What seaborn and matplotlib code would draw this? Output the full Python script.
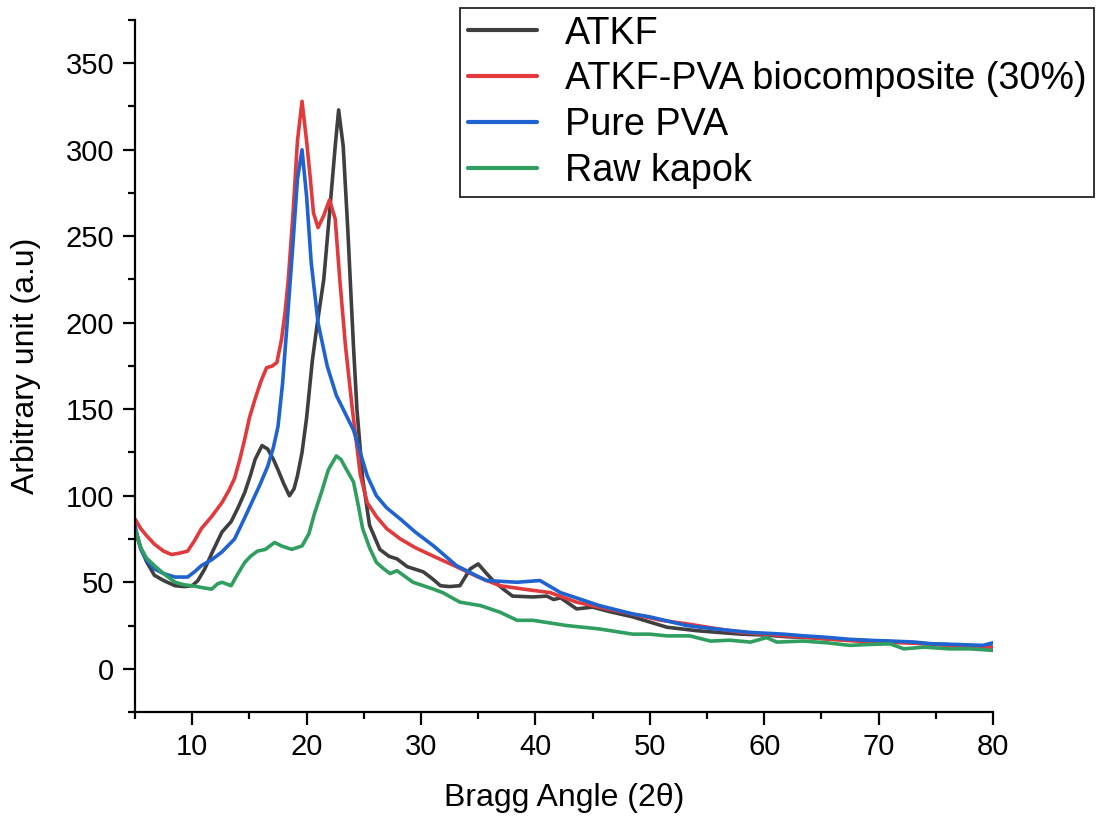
import numpy as np
import pandas as pd
import matplotlib
matplotlib.use("Agg")
import matplotlib.pyplot as plt
import seaborn as sns
from matplotlib.ticker import MultipleLocator
from matplotlib.lines import Line2D

# ---------------- data ----------------
series_names = ["ATKF", "ATKF-PVA biocomposite (30%)", "Pure PVA", "Raw kapok"]
series_colors = ["#3f3f3f", "#e23a3c", "#1f63d0", "#2f9e5f"]

atkf_x = [5, 5.5, 6, 6.7, 7.5, 8.5, 9.3, 10, 10.5, 11.1,
          11.8, 12.6, 13.4, 14.0, 14.6, 15.1, 15.5, 16.1, 16.6, 17.1,
          17.5, 18.0, 18.5, 18.9, 19.2, 19.6, 20.0, 20.5, 20.9, 21.5,
          22.0, 22.5, 22.8, 23.2, 23.6, 24.1, 24.4, 24.9, 25.5, 26.4,
          27.2, 27.9, 28.8, 30.2, 31.0, 31.7, 32.5, 33.4, 34.3, 35.0,
          35.6, 36.3, 37.2, 38.0, 39.8, 41.0, 41.6, 42.2, 43.6, 45.0,
          46.5, 48.5, 50, 51.5, 54.1, 56, 58, 60, 62, 64,
          66, 68, 70, 72, 74, 76, 78, 80]
atkf_y = [80, 70, 62, 54, 51, 48, 47.5, 48, 51, 57.7,
          68, 79, 85, 93, 102, 112, 121, 129, 127, 121,
          115, 107, 100, 104, 111.5, 125, 145, 178, 198, 225,
          263, 302, 323, 302, 254, 186, 150, 110, 83, 69,
          65, 63.5, 59, 56, 52, 48, 47.5, 48, 57.7, 60.6,
          56, 51, 46, 42, 41.5, 42, 40, 41, 34.6, 35.6,
          33, 30, 27, 24, 22, 21, 20, 19.5, 18.5, 18,
          17, 16.5, 16, 15.5, 14.5, 14, 13, 12.5]

comp_x = [5, 5.5, 6, 6.7, 7.5, 8.2, 9.0, 9.6, 10.2, 10.8,
          11.7, 12.6, 13.2, 13.7, 14.2, 14.6, 15.0, 15.5, 16.0, 16.5,
          17.0, 17.4, 17.8, 18.1, 18.4, 18.8, 19.2, 19.6, 20.0, 20.3,
          20.6, 21.0, 21.5, 22.0, 22.5, 22.9, 23.4, 24.0, 24.7, 25.3,
          26.1, 27.0, 28.2, 29.5, 31.1, 33.1, 35.0, 36.9, 39, 41.3,
          43.6, 46, 48.5, 51, 53.2, 56, 58, 60, 62, 64,
          66, 68, 70, 72, 74, 76, 78, 80]
comp_y = [86.6, 81, 77, 72, 68, 66, 67, 68, 74, 81,
          88, 96, 103, 110, 122, 133, 145, 156, 166, 174,
          175, 177, 190, 205, 225, 262, 305, 328, 305, 285,
          263.5, 255, 262, 271, 260, 225, 186.5, 150, 112, 96,
          88, 81, 75, 70, 65, 59, 53, 48, 46, 44,
          38.5, 35, 31.6, 28, 26, 23, 21, 20, 19, 18,
          17, 16, 15.5, 15, 14.5, 13.5, 12.5, 12]

pva_x = [5, 5.5, 6, 6.7, 7.5, 8.5, 9.6, 10.2, 10.8, 11.7,
         12.6, 13.7, 14.5, 15.2, 15.9, 16.6, 17.1, 17.5, 17.9, 18.3,
         18.8, 19.2, 19.6, 20.0, 20.4, 21.0, 21.8, 22.6, 23.2, 24.1,
         25.3, 26.1, 27.0, 28.2, 29.5, 31.1, 33.1, 35.7, 38.4, 40.4,
         42.2, 45.6, 48.5, 50, 53.2, 54.4, 56.5, 58.8, 61.7, 63.5,
         65.2, 67.5, 69, 71, 73, 74.7, 77, 79.1, 80]
pva_y = [82.7, 69, 63, 57.7, 55, 53, 53, 56, 59.6, 63,
         67.5, 75, 86, 96, 106, 117, 128, 140, 165, 200,
         245, 283, 300, 273, 235, 200, 175, 158, 150, 138,
         111.5, 100, 93, 86.5, 79, 71, 59.6, 51, 50, 51,
         44, 36.5, 31.7, 30, 25, 24, 22.5, 21, 20, 19,
         18.3, 17, 16.5, 16, 15.5, 14.4, 14, 13.5, 15]

kapok_x = [5, 5.5, 6, 6.7, 7.5, 8.5, 9.3, 10, 10.8, 11.7,
           12.2, 12.6, 13.0, 13.4, 14.0, 14.6, 15.1, 15.7, 16.4, 17.2,
           17.8, 18.7, 19.6, 20.2, 20.7, 21.3, 21.9, 22.6, 23.0, 23.5,
           24.1, 24.5, 24.9, 25.5, 26.1, 26.7, 27.3, 27.9, 29.3, 30.2,
           31.1, 31.9, 33.4, 35.2, 36.9, 38.4, 39.8, 42.7, 45.6, 48.5,
           50, 51.5, 53.5, 55.3, 57, 58.8, 60.2, 61.1, 63.4, 65.5,
           67.5, 69, 71, 72.2, 74, 76.2, 78, 80]
kapok_y = [81, 70, 64, 59.6, 55, 50, 48.5, 48, 47, 46,
           49, 50, 49, 48, 55, 61.5, 65, 68, 69, 73,
           71, 69, 71, 78, 90, 102, 115, 123, 121, 115,
           108, 95, 81, 70, 61.5, 58, 55, 56.7, 50, 48,
           46, 44, 38.5, 36.5, 32.7, 28, 28, 25, 23, 20,
           20, 19, 19, 16, 16.5, 15.4, 18, 15.4, 16, 15,
           13.5, 14, 14.4, 11.5, 12.5, 11.5, 11.5, 10.6]

x_major_ticks = [10, 20, 30, 40, 50, 60, 70, 80]
y_major_ticks = [0, 50, 100, 150, 200, 250, 300, 350]

# ---------------- build long-form table ----------------
frames = []
for name, xs, ys in zip(series_names,
                        [atkf_x, comp_x, pva_x, kapok_x],
                        [atkf_y, comp_y, pva_y, kapok_y]):
    frames.append(pd.DataFrame({"angle": xs, "intensity": ys, "sample": name}))
df = pd.concat(frames, ignore_index=True)

# ---------------- plotting ----------------
sns.set_theme(style="ticks")
plt.rcParams["font.family"] = ["Liberation Sans", "DejaVu Sans"]
plt.rcParams["text.color"] = "black"

fig = plt.figure(figsize=(10.96, 8.21), dpi=100)
ax = fig.add_axes([135 / 1096, 1 - 712 / 821, (993 - 135) / 1096, (712 - 20) / 821])

palette = dict(zip(series_names, series_colors))
sns.lineplot(data=df, x="angle", y="intensity", hue="sample", hue_order=series_names,
             palette=palette, sort=False, estimator=None, linewidth=2.6,
             legend=False, ax=ax)

ax.set_xlim(5, 80)
ax.set_ylim(-25, 375)
ax.set_xticks(x_major_ticks)
ax.set_yticks(y_major_ticks)
ax.xaxis.set_minor_locator(MultipleLocator(5))
ax.yaxis.set_minor_locator(MultipleLocator(25))

for side in ["top", "right"]:
    ax.spines[side].set_visible(False)
for side in ["left", "bottom"]:
    ax.spines[side].set_linewidth(1.6)
    ax.spines[side].set_color("black")

ax.tick_params(axis="both", which="major", direction="out", length=9, width=1.6,
               labelsize=21, colors="black", pad=6)
ax.tick_params(axis="both", which="minor", direction="out", length=5, width=1.6,
               colors="black")

ax.set_xlabel("Bragg Angle (2θ)", fontsize=23, labelpad=16, color="black")
ax.set_ylabel("Arbitrary unit (a.u)", fontsize=23, labelpad=18, color="black")

handles = [Line2D([0], [0], color=c, linewidth=3) for c in series_colors]
leg = ax.legend(handles, series_names, loc="upper left",
                bbox_to_anchor=(460 / 1096, 1 - 8 / 821), bbox_transform=fig.transFigure,
                fontsize=27.2, frameon=True, fancybox=False, framealpha=1,
                edgecolor="#222222", borderaxespad=0, borderpad=0.2,
                handlelength=1.85, handletextpad=0.72, labelspacing=0.26)
leg.get_frame().set_linewidth(1.3)
for t in leg.get_texts():
    t.set_color("black")

fig.savefig("out.png", dpi=100)
